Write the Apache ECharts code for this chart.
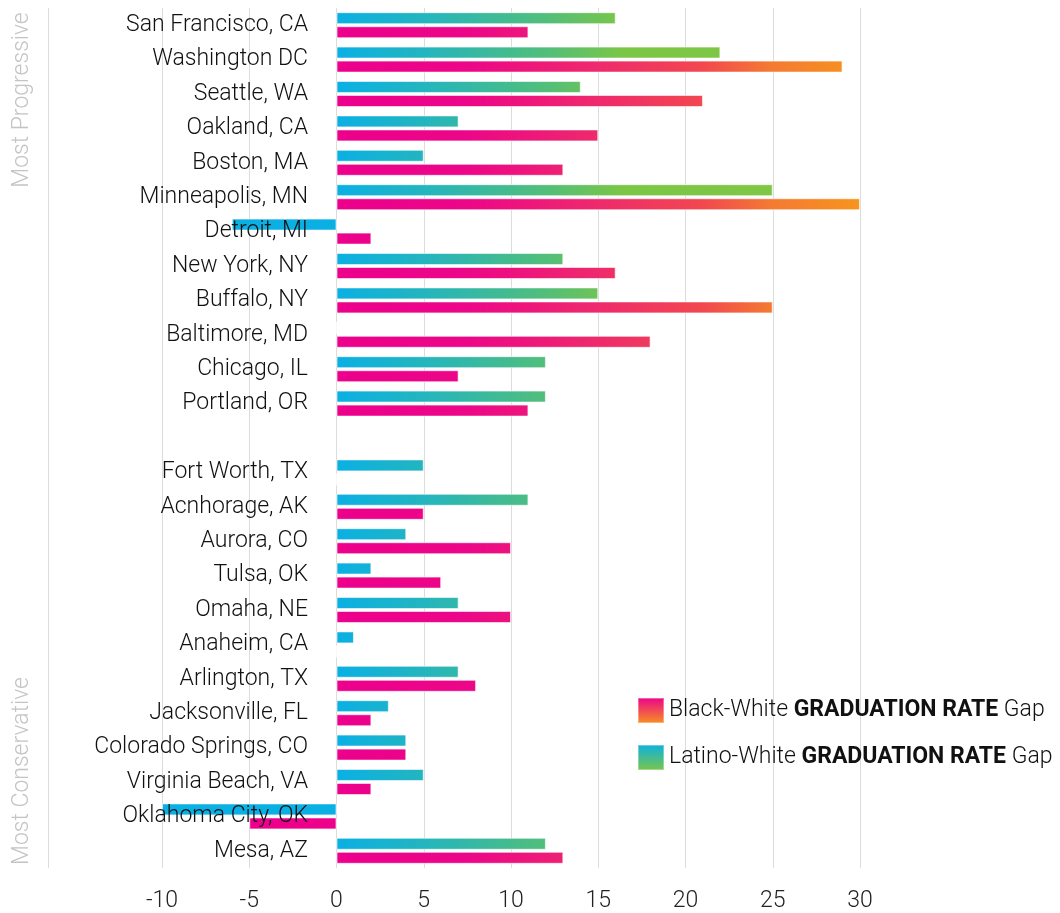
<!DOCTYPE html>
<html>
<head>
    <meta charset="UTF-8">
    <title>Graduation rate gaps</title>
    <style>
        html, body { margin: 0; padding: 0; background: #fff; }
    </style>
</head>
<body>
<div id="chart" style="width: 1060px;height: 913px;"></div>
<script src="https://cdn.jsdelivr.net/npm/echarts@6/dist/echarts.min.js"></script>
<script>
    // cities, top to bottom (empty string = the spacer row)
    var cities = [
        'San Francisco, CA', 'Washington DC', 'Seattle, WA', 'Oakland, CA', 'Boston, MA',
        'Minneapolis, MN', 'Detroit, MI', 'New York, NY', 'Buffalo, NY', 'Baltimore, MD',
        'Chicago, IL', 'Portland, OR', '', 'Fort Worth, TX', 'Acnhorage, AK', 'Aurora, CO',
        'Tulsa, OK', 'Omaha, NE', 'Anaheim, CA', 'Arlington, TX', 'Jacksonville, FL',
        'Colorado Springs, CO', 'Virginia Beach, VA', 'Oklahoma City, OK', 'Mesa, AZ'
    ];
    var latinoGap = [16, 22, 14, 7, 5, 25, -6, 13, 15, 0, 12, 12, null, 5, 11, 4, 2, 7, 1, 7, 3, 4, 5, -10, 12];
    var blackGap  = [11, 29, 21, 15, 13, 30, 2, 16, 25, 18, 7, 11, null, 0, 5, 10, 6, 10, 0, 8, 2, 4, 2, -5, 13];
    var xTicks = [-10, -5, 0, 5, 10, 15, 20, 25, 30];

    var blackStops = [
        {offset: 0, color: '#EC008C'},
        {offset: 0.25, color: '#EC0688'},
        {offset: 0.5, color: '#EE2A6C'},
        {offset: 0.7, color: '#F2484F'},
        {offset: 0.83, color: '#F47A32'},
        {offset: 1, color: '#F7941E'}
    ];
    var latinoStops = [
        {offset: 0, color: '#0AB0E4'},
        {offset: 0.17, color: '#24B5BE'},
        {offset: 0.4, color: '#52BE7A'},
        {offset: 0.55, color: '#7CC645'},
        {offset: 1, color: '#80C846'}
    ];

    var chart = echarts.init(document.getElementById('chart'));
    var font = 'Roboto, "Noto Sans", sans-serif';

    function legendName(name) {
        return '{n|' + name + ' }{b|GRADUATION RATE}{n| Gap}';
    }

    var option = {
        animation: false,
        grid: {left: 162, right: 200, top: 8, bottom: 45, outerBoundsMode: 'none', containLabel: false},
        legend: {
            orient: 'vertical',
            left: 632,
            top: 692,
            itemWidth: 26,
            itemHeight: 25,
            itemGap: 20,
            icon: 'rect',
            selectedMode: false,
            formatter: function (name) {
                return legendName(name.replace(' GRADUATION RATE Gap', ''));
            },
            textStyle: {
                rich: {
                    n: {fontSize: 23, lineHeight: 25, fontFamily: font, fontWeight: 300, color: '#111'},
                    b: {fontSize: 23, lineHeight: 25, fontFamily: font, fontWeight: 'bold', color: '#111'}
                }
            },
            data: [
                {name: 'Black-White GRADUATION RATE Gap',
                 itemStyle: {color: new echarts.graphic.LinearGradient(0, 0, 0, 1, [
                     {offset: 0, color: '#EC008C'}, {offset: 1, color: '#F7941E'}])}},
                {name: 'Latino-White GRADUATION RATE Gap',
                 itemStyle: {color: new echarts.graphic.LinearGradient(0, 0, 0, 1, [
                     {offset: 0, color: '#0AB0E4'}, {offset: 1, color: '#7CC645'}])}}
            ]
        },
        xAxis: {
            type: 'value',
            min: xTicks[0],
            max: xTicks[xTicks.length - 1],
            interval: 5,
            axisLine: {show: false},
            axisTick: {show: false},
            splitLine: {lineStyle: {color: '#dcdcdc', width: 1}},
            axisLabel: {fontSize: 23, fontFamily: font, fontWeight: 300, color: '#222', margin: 22}
        },
        yAxis: {
            type: 'category',
            data: cities,
            inverse: true,
            z: 5,
            offset: -175,
            axisLine: {show: false, onZero: false},
            axisTick: {show: false},
            axisLabel: {fontSize: 23, fontFamily: font, fontWeight: 300, color: '#111', margin: 29,
                        padding: [5, 0, 0, 0]}
        },
        graphic: [
            {type: 'line', shape: {x1: 48.5, y1: 8, x2: 48.5, y2: 868},
             style: {stroke: '#dcdcdc', lineWidth: 1}, silent: true},
            {type: 'text', x: 22, y: 100, rotation: Math.PI / 2,
             style: {text: 'Most Progressive', fill: '#c4c4c4', fontSize: 23, fontWeight: 300,
                     fontFamily: font, align: 'center', verticalAlign: 'middle'}},
            {type: 'text', x: 22, y: 771, rotation: Math.PI / 2,
             style: {text: 'Most Conservative', fill: '#c4c4c4', fontSize: 23, fontWeight: 300,
                     fontFamily: font, align: 'center', verticalAlign: 'middle'}}
        ],
        series: [
            {
                name: 'Latino-White GRADUATION RATE Gap',
                type: 'bar',
                data: latinoGap,
                barWidth: 12,
                barGap: '17%',
                itemStyle: {color: '#0AB0E4', borderColor: 'rgba(255,255,255,0.35)', borderWidth: 1}
            },
            {
                name: 'Black-White GRADUATION RATE Gap',
                type: 'bar',
                data: blackGap,
                barWidth: 12,
                barGap: '17%',
                itemStyle: {color: '#EC008C', borderColor: 'rgba(255,255,255,0.35)', borderWidth: 1}
            }
        ]
    };
    chart.setOption(option);

    // gradients run along the value axis, from 0 to 30, for every bar alike
    var x0 = chart.convertToPixel({xAxisIndex: 0}, 0);
    var x1 = chart.convertToPixel({xAxisIndex: 0}, 30);
    chart.setOption({
        series: [
            {itemStyle: {color: new echarts.graphic.LinearGradient(x0, 0, x1, 0, latinoStops, true)}},
            {itemStyle: {color: new echarts.graphic.LinearGradient(x0, 0, x1, 0, blackStops, true)}}
        ]
    });
</script>
</body>
</html>
